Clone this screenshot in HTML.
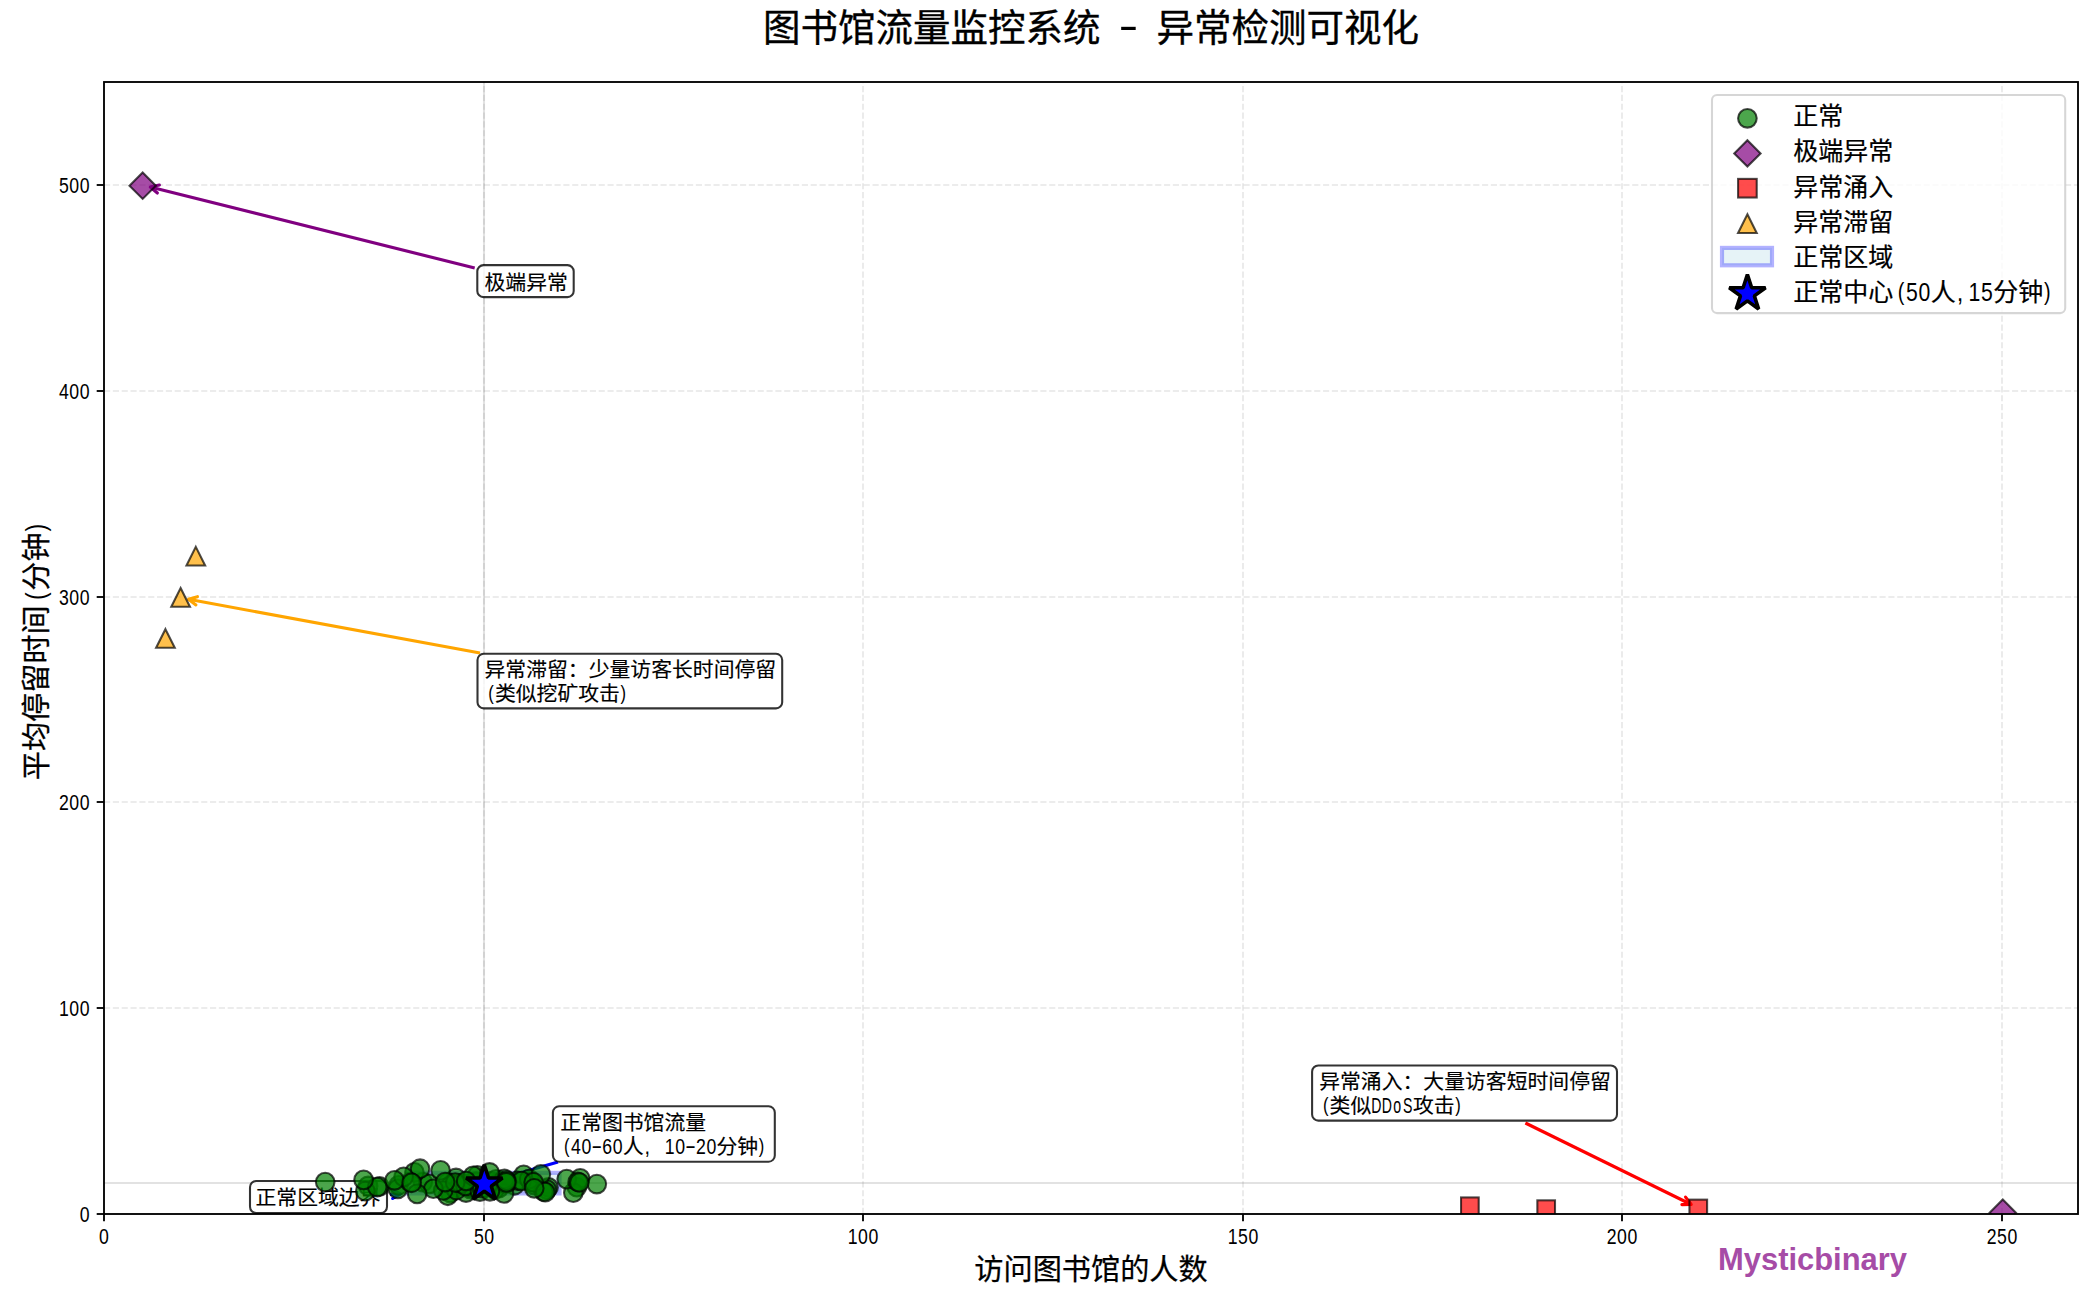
<!DOCTYPE html>
<html lang="zh-CN"><head><meta charset="utf-8"><title>图书馆流量监控系统 - 异常检测可视化</title>
<style>
html,body{margin:0;padding:0;background:#fff;}
body{width:2100px;height:1292px;overflow:hidden;}
svg{display:block;font-family:"Liberation Sans","Noto Sans CJK SC",sans-serif;}
text{white-space:pre;}
</style></head><body>
<svg width="2100" height="1292" viewBox="0 0 2100 1292">
<rect width="2100" height="1292" fill="#fff"/>
<defs><clipPath id="ax"><rect x="104.0" y="82.0" width="1974.0" height="1132.0"/></clipPath></defs>

<g clip-path="url(#ax)">
<g stroke="#b0b0b0" stroke-opacity="0.3" stroke-width="1.67" stroke-dasharray="6.1667 2.6667" fill="none">
<path d="M104 1214.0 V82.0"/>
<path d="M484 1214.0 V82.0"/>
<path d="M863 1214.0 V82.0"/>
<path d="M1243 1214.0 V82.0"/>
<path d="M1622 1214.0 V82.0"/>
<path d="M2002 1214.0 V82.0"/>
<path d="M104.0 1214 H2078.0"/>
<path d="M104.0 1008 H2078.0"/>
<path d="M104.0 802 H2078.0"/>
<path d="M104.0 597 H2078.0"/>
<path d="M104.0 391 H2078.0"/>
<path d="M104.0 185 H2078.0"/>
</g>
<path d="M104.0 1183 H2078.0" stroke="#808080" stroke-opacity="0.23" stroke-width="2.08"/>
<path d="M484 1214.0 V82.0" stroke="#808080" stroke-opacity="0.23" stroke-width="2.08"/>
<rect x="407.69" y="1172.84" width="151.85" height="20.58" fill="#add8e6" fill-opacity="0.3" stroke="#0000ff" stroke-opacity="0.3" stroke-width="4.17"/>
</g>
<path d="M474.70 268.00 L150.30 187.00" stroke="#800080" stroke-width="3.125" fill="none" stroke-linecap="butt"/>
<path d="M157.37 193.06 L150.30 187.00 L159.39 184.97" stroke="#800080" stroke-width="3.125" fill="none" stroke-linecap="round" stroke-linejoin="round"/>
<path d="M480.00 653.00 L188.50 599.30" stroke="#ffa500" stroke-width="3.125" fill="none" stroke-linecap="butt"/>
<path d="M195.94 604.91 L188.50 599.30 L197.45 596.71" stroke="#ffa500" stroke-width="3.125" fill="none" stroke-linecap="round" stroke-linejoin="round"/>
<path d="M1525.40 1123.00 L1691.20 1204.50" stroke="#ff0000" stroke-width="3.125" fill="none" stroke-linecap="butt"/>
<path d="M1685.56 1197.08 L1691.20 1204.50 L1681.88 1204.57" stroke="#ff0000" stroke-width="3.125" fill="none" stroke-linecap="round" stroke-linejoin="round"/>
<path d="M558.00 1162.00 L487.62 1182.13" stroke="#0000ff" stroke-width="3.125" fill="none" stroke-linecap="butt"/>
<path d="M496.77 1183.85 L487.62 1182.13 L494.48 1175.83" stroke="#0000ff" stroke-width="3.125" fill="none" stroke-linecap="round" stroke-linejoin="round"/>
<path d="M390.00 1194.40 L400.80 1193.90" stroke="#0000ff" stroke-width="3.125" fill="none" stroke-linecap="butt"/>
<path d="M392.29 1190.12 L400.80 1193.90 L392.67 1198.45" stroke="#0000ff" stroke-width="3.125" fill="none" stroke-linecap="round" stroke-linejoin="round"/>
<rect x="477.30" y="265.10" width="96.40" height="32.00" rx="6.2" ry="6.2" fill="#fff" fill-opacity="0.8" stroke="#000" stroke-opacity="0.8" stroke-width="2.08"/>
<text x="484.50" y="289.60" font-size="20.83" textLength="83.32" lengthAdjust="spacing" fill="#000" stroke="#000" stroke-width="0.15">极端异常</text>
<rect x="477.50" y="653.80" width="304.70" height="54.60" rx="6.2" ry="6.2" fill="#fff" fill-opacity="0.8" stroke="#000" stroke-opacity="0.8" stroke-width="2.08"/>
<text x="484.50" y="677.40" font-size="20.83" textLength="291.62" lengthAdjust="spacing" fill="#000" stroke="#000" stroke-width="0.15">异常滞留：少量访客长时间停留</text>
<text transform="translate(490.96 700.16) scale(0.85 1)" text-anchor="middle" font-size="19.43" fill="#000">(</text>
<text x="494.92" y="701.20" font-size="20.83" textLength="124.98" lengthAdjust="spacing" fill="#000" stroke="#000" stroke-width="0.15">类似挖矿攻击</text>
<text transform="translate(623.23 700.16) scale(0.85 1)" text-anchor="middle" font-size="19.43" fill="#000">)</text>
<rect x="1312.10" y="1065.50" width="304.90" height="55.10" rx="6.2" ry="6.2" fill="#fff" fill-opacity="0.8" stroke="#000" stroke-opacity="0.8" stroke-width="2.08"/>
<text x="1319.20" y="1089.40" font-size="20.83" textLength="291.62" lengthAdjust="spacing" fill="#000" stroke="#000" stroke-width="0.15">异常涌入：大量访客短时间停留</text>
<text transform="translate(1325.66 1112.16) scale(0.85 1)" text-anchor="middle" font-size="19.43" fill="#000">(</text>
<text x="1329.62" y="1113.20" font-size="20.83" textLength="41.66" lengthAdjust="spacing" fill="#000" stroke="#000" stroke-width="0.15">类似</text>
<text transform="scale(0.64 1)" x="2150.75 2167.03 2183.30 2199.57" y="1113.20" text-anchor="middle" font-size="22.08" fill="#000">DDoS</text>
<text x="1412.94" y="1113.20" font-size="20.83" textLength="41.66" lengthAdjust="spacing" fill="#000" stroke="#000" stroke-width="0.15">攻击</text>
<text transform="translate(1457.93 1112.16) scale(0.85 1)" text-anchor="middle" font-size="19.43" fill="#000">)</text>
<rect x="552.90" y="1106.30" width="221.90" height="55.40" rx="6.2" ry="6.2" fill="#fff" fill-opacity="0.8" stroke="#000" stroke-opacity="0.8" stroke-width="2.08"/>
<text x="560.30" y="1130.30" font-size="20.83" textLength="145.81" lengthAdjust="spacing" fill="#000" stroke="#000" stroke-width="0.15">正常图书馆流量</text>
<text transform="translate(566.76 1153.06) scale(0.85 1)" text-anchor="middle" font-size="19.43" fill="#000">(</text>
<text transform="scale(0.8 1)" x="719.90 732.92" y="1154.10" text-anchor="middle" font-size="22.08" fill="#000">40</text>
<text transform="translate(596.75 1152.64) scale(1.5 1)" text-anchor="middle" font-size="22.08" fill="#000">-</text>
<text transform="scale(0.8 1)" x="758.96 771.98" y="1154.10" text-anchor="middle" font-size="22.08" fill="#000">60</text>
<text x="622.79" y="1154.10" font-size="20.83" textLength="20.83" lengthAdjust="spacing" fill="#000" stroke="#000" stroke-width="0.15">人</text>
<text transform="translate(647.16 1154.10) scale(0.9 1)" text-anchor="middle" font-size="22.08" fill="#000">,</text>
<text transform="scale(0.8 1)" x="837.07 850.09" y="1154.10" text-anchor="middle" font-size="22.08" fill="#000">10</text>
<text transform="translate(690.49 1152.64) scale(1.5 1)" text-anchor="middle" font-size="22.08" fill="#000">-</text>
<text transform="scale(0.8 1)" x="876.13 889.15" y="1154.10" text-anchor="middle" font-size="22.08" fill="#000">20</text>
<text x="716.52" y="1154.10" font-size="20.83" textLength="41.66" lengthAdjust="spacing" fill="#000" stroke="#000" stroke-width="0.15">分钟</text>
<text transform="translate(761.52 1153.06) scale(0.85 1)" text-anchor="middle" font-size="19.43" fill="#000">)</text>
<rect x="250.00" y="1181.00" width="137.00" height="32.00" rx="6.2" ry="6.2" fill="#fff" fill-opacity="0.8" stroke="#000" stroke-opacity="0.8" stroke-width="2.08"/>
<text x="255.50" y="1205.30" font-size="20.83" textLength="124.98" lengthAdjust="spacing" fill="#000" stroke="#000" stroke-width="0.15">正常区域边界</text>
<g clip-path="url(#ax)">
<g fill="#008000" fill-opacity="0.7" stroke="#000" stroke-opacity="0.7" stroke-width="2.08">
<circle cx="514.49" cy="1185.28" r="9.32"/>
<circle cx="475.92" cy="1181.72" r="9.32"/>
<circle cx="523.65" cy="1174.80" r="9.32"/>
<circle cx="576.82" cy="1187.13" r="9.32"/>
<circle cx="470.09" cy="1188.92" r="9.32"/>
<circle cx="470.09" cy="1187.03" r="9.32"/>
<circle cx="580.23" cy="1178.28" r="9.32"/>
<circle cx="530.93" cy="1181.90" r="9.32"/>
<circle cx="455.80" cy="1187.20" r="9.32"/>
<circle cx="517.27" cy="1180.76" r="9.32"/>
<circle cx="456.17" cy="1183.33" r="9.32"/>
<circle cx="456.03" cy="1177.95" r="9.32"/>
<circle cx="499.01" cy="1188.26" r="9.32"/>
<circle cx="368.11" cy="1185.95" r="9.32"/>
<circle cx="379.55" cy="1186.35" r="9.32"/>
<circle cx="450.16" cy="1192.96" r="9.32"/>
<circle cx="422.80" cy="1182.10" r="9.32"/>
<circle cx="503.40" cy="1182.32" r="9.32"/>
<circle cx="429.16" cy="1183.90" r="9.32"/>
<circle cx="398.53" cy="1185.38" r="9.32"/>
<circle cx="573.34" cy="1192.67" r="9.32"/>
<circle cx="470.60" cy="1186.52" r="9.32"/>
<circle cx="488.42" cy="1186.04" r="9.32"/>
<circle cx="397.78" cy="1188.88" r="9.32"/>
<circle cx="451.25" cy="1184.92" r="9.32"/>
<circle cx="491.05" cy="1181.43" r="9.32"/>
<circle cx="414.41" cy="1172.28" r="9.32"/>
<circle cx="507.13" cy="1182.85" r="9.32"/>
<circle cx="447.83" cy="1182.34" r="9.32"/>
<circle cx="466.60" cy="1184.39" r="9.32"/>
<circle cx="447.77" cy="1195.77" r="9.32"/>
<circle cx="596.82" cy="1184.09" r="9.32"/>
<circle cx="483.50" cy="1183.56" r="9.32"/>
<circle cx="420.07" cy="1168.72" r="9.32"/>
<circle cx="534.28" cy="1185.12" r="9.32"/>
<circle cx="410.16" cy="1182.07" r="9.32"/>
<circle cx="497.00" cy="1184.14" r="9.32"/>
<circle cx="365.29" cy="1191.14" r="9.32"/>
<circle cx="403.64" cy="1176.87" r="9.32"/>
<circle cx="496.27" cy="1179.28" r="9.32"/>
<circle cx="529.17" cy="1179.04" r="9.32"/>
<circle cx="494.72" cy="1189.54" r="9.32"/>
<circle cx="477.29" cy="1175.27" r="9.32"/>
<circle cx="466.03" cy="1192.58" r="9.32"/>
<circle cx="394.51" cy="1180.30" r="9.32"/>
<circle cx="440.59" cy="1170.40" r="9.32"/>
<circle cx="456.34" cy="1190.04" r="9.32"/>
<circle cx="548.52" cy="1187.42" r="9.32"/>
<circle cx="505.19" cy="1183.31" r="9.32"/>
<circle cx="377.23" cy="1187.04" r="9.32"/>
<circle cx="504.00" cy="1193.50" r="9.32"/>
<circle cx="460.93" cy="1183.50" r="9.32"/>
<circle cx="443.20" cy="1190.49" r="9.32"/>
<circle cx="521.47" cy="1181.00" r="9.32"/>
<circle cx="546.94" cy="1189.60" r="9.32"/>
<circle cx="540.88" cy="1174.36" r="9.32"/>
<circle cx="433.34" cy="1188.76" r="9.32"/>
<circle cx="465.53" cy="1185.92" r="9.32"/>
<circle cx="504.44" cy="1178.90" r="9.32"/>
<circle cx="543.57" cy="1191.53" r="9.32"/>
<circle cx="455.21" cy="1182.52" r="9.32"/>
<circle cx="473.04" cy="1175.86" r="9.32"/>
<circle cx="417.12" cy="1193.85" r="9.32"/>
<circle cx="411.66" cy="1182.79" r="9.32"/>
<circle cx="533.67" cy="1182.32" r="9.32"/>
<circle cx="566.69" cy="1179.10" r="9.32"/>
<circle cx="479.94" cy="1191.56" r="9.32"/>
<circle cx="545.27" cy="1192.08" r="9.32"/>
<circle cx="506.28" cy="1180.70" r="9.32"/>
<circle cx="445.13" cy="1182.09" r="9.32"/>
<circle cx="506.27" cy="1182.38" r="9.32"/>
<circle cx="577.73" cy="1181.79" r="9.32"/>
<circle cx="482.14" cy="1188.13" r="9.32"/>
<circle cx="579.35" cy="1182.49" r="9.32"/>
<circle cx="325.20" cy="1182.12" r="9.32"/>
<circle cx="534.24" cy="1188.34" r="9.32"/>
<circle cx="489.60" cy="1172.41" r="9.32"/>
<circle cx="466.15" cy="1181.00" r="9.32"/>
<circle cx="489.89" cy="1191.28" r="9.32"/>
<circle cx="363.59" cy="1179.87" r="9.32"/>
</g>
<g fill="#800080" fill-opacity="0.7" stroke="#000" stroke-opacity="0.7" stroke-width="2.08" stroke-linejoin="miter"><path d="M142.66 172.54 L155.83 185.71 L142.66 198.88 L129.49 185.71 Z"/><path d="M2002.78 1199.57 L2015.95 1212.74 L2002.78 1225.91 L1989.61 1212.74 Z"/></g>
<g fill="#ff0000" fill-opacity="0.7" stroke="#000" stroke-opacity="0.7" stroke-width="2.08" stroke-linejoin="miter"><rect x="1461.04" y="1197.44" width="17.67" height="17.67"/><rect x="1537.34" y="1200.34" width="17.67" height="17.67"/><rect x="1689.44" y="1199.64" width="17.67" height="17.67"/></g>
<g fill="#ffa500" fill-opacity="0.7" stroke="#000" stroke-opacity="0.7" stroke-width="2.08" stroke-linejoin="miter"><path d="M165.44 629.19 L174.76 647.83 L156.12 647.83 Z"/><path d="M180.62 588.03 L189.94 606.67 L171.30 606.67 Z"/><path d="M195.81 546.86 L205.13 565.50 L186.49 565.50 Z"/></g>
<g fill="#0000ff" stroke="#000" stroke-width="3.6" stroke-linejoin="bevel"><path d="M484.32 1164.83 L488.60 1178.03 L502.48 1178.03 L491.25 1186.18 L495.54 1199.38 L484.32 1191.22 L473.09 1199.38 L477.38 1186.18 L466.15 1178.03 L480.03 1178.03 Z"/></g>
</g>
<rect x="104.0" y="82.0" width="1974.0" height="1132.0" fill="none" stroke="#000" stroke-width="1.85"/>
<g stroke="#000" stroke-width="1.85">
<path d="M104 1214.0 v7.3"/>
<path d="M484 1214.0 v7.3"/>
<path d="M863 1214.0 v7.3"/>
<path d="M1243 1214.0 v7.3"/>
<path d="M1622 1214.0 v7.3"/>
<path d="M2002 1214.0 v7.3"/>
<path d="M104.0 1214 h-7.3"/>
<path d="M104.0 1008 h-7.3"/>
<path d="M104.0 802 h-7.3"/>
<path d="M104.0 597 h-7.3"/>
<path d="M104.0 391 h-7.3"/>
<path d="M104.0 185 h-7.3"/>
</g>
<text transform="scale(0.8 1)" x="130.00" y="1244.00" text-anchor="middle" font-size="22.08" fill="#000">0</text>
<text transform="scale(0.8 1)" x="598.49 611.51" y="1244.00" text-anchor="middle" font-size="22.08" fill="#000">50</text>
<text transform="scale(0.8 1)" x="1065.73 1078.75 1091.77" y="1244.00" text-anchor="middle" font-size="22.08" fill="#000">100</text>
<text transform="scale(0.8 1)" x="1540.73 1553.75 1566.77" y="1244.00" text-anchor="middle" font-size="22.08" fill="#000">150</text>
<text transform="scale(0.8 1)" x="2014.48 2027.50 2040.52" y="1244.00" text-anchor="middle" font-size="22.08" fill="#000">200</text>
<text transform="scale(0.8 1)" x="2489.48 2502.50 2515.52" y="1244.00" text-anchor="middle" font-size="22.08" fill="#000">250</text>
<text transform="scale(0.8 1)" x="105.87" y="1222.30" text-anchor="middle" font-size="22.08" fill="#000">0</text>
<text transform="scale(0.8 1)" x="79.83 92.85 105.87" y="1016.30" text-anchor="middle" font-size="22.08" fill="#000">100</text>
<text transform="scale(0.8 1)" x="79.83 92.85 105.87" y="810.30" text-anchor="middle" font-size="22.08" fill="#000">200</text>
<text transform="scale(0.8 1)" x="79.83 92.85 105.87" y="605.30" text-anchor="middle" font-size="22.08" fill="#000">300</text>
<text transform="scale(0.8 1)" x="79.83 92.85 105.87" y="399.30" text-anchor="middle" font-size="22.08" fill="#000">400</text>
<text transform="scale(0.8 1)" x="79.83 92.85 105.87" y="193.30" text-anchor="middle" font-size="22.08" fill="#000">500</text>
<text x="762.88" y="41.30" font-size="37.50" textLength="337.50" lengthAdjust="spacing" fill="#000" stroke="#000" stroke-width="0.35">图书馆流量监控系统</text>
<text transform="translate(1128.50 38.67) scale(1.5 1)" text-anchor="middle" font-size="39.75" fill="#000">-</text>
<text x="1156.62" y="41.30" font-size="37.50" textLength="262.50" lengthAdjust="spacing" fill="#000" stroke="#000" stroke-width="0.35">异常检测可视化</text>
<text x="974.32" y="1279.50" font-size="29.17" textLength="233.36" lengthAdjust="spacing" fill="#000" stroke="#000" stroke-width="0.25">访问图书馆的人数</text>
<g transform="translate(46.5 649.00) rotate(-90)">
<text x="-131.27" y="0.00" font-size="29.17" textLength="175.02" lengthAdjust="spacing" fill="#000" stroke="#000" stroke-width="0.25">平均停留时间</text>
<text transform="translate(52.80 -1.46) scale(0.85 1)" text-anchor="middle" font-size="27.21" fill="#000">(</text>
<text x="58.34" y="0.00" font-size="29.17" textLength="58.34" lengthAdjust="spacing" fill="#000" stroke="#000" stroke-width="0.25">分钟</text>
<text transform="translate(121.35 -1.46) scale(0.85 1)" text-anchor="middle" font-size="27.21" fill="#000">)</text>
</g>
<rect x="1712.0" y="95.0" width="353.20" height="218.10" rx="5" ry="5" fill="#fff" fill-opacity="0.8" stroke="#ccc" stroke-opacity="0.8" stroke-width="2.08"/>
<circle cx="1747.4" cy="118.3" r="9.32" fill="#008000" fill-opacity="0.7" stroke="#000" stroke-opacity="0.7" stroke-width="2.08"/>
<g fill="#800080" fill-opacity="0.7" stroke="#000" stroke-opacity="0.7" stroke-width="2.08" stroke-linejoin="miter"><path d="M1747.40 140.23 L1760.57 153.40 L1747.40 166.57 L1734.23 153.40 Z"/></g>
<g fill="#ff0000" fill-opacity="0.7" stroke="#000" stroke-opacity="0.7" stroke-width="2.08" stroke-linejoin="miter"><rect x="1738.08" y="178.88" width="18.64" height="18.64"/></g>
<g fill="#ffa500" fill-opacity="0.7" stroke="#000" stroke-opacity="0.7" stroke-width="2.08" stroke-linejoin="miter"><path d="M1747.40 214.28 L1756.72 232.92 L1738.08 232.92 Z"/></g>
<rect x="1722.00" y="247.90" width="50" height="17.4" fill="#add8e6" fill-opacity="0.3" stroke="#0000ff" stroke-opacity="0.3" stroke-width="4.17"/>
<g fill="#0000ff" stroke="#000" stroke-width="3.6" stroke-linejoin="bevel"><path d="M1747.40 274.50 L1751.69 287.70 L1765.57 287.70 L1754.34 295.85 L1758.63 309.05 L1747.40 300.90 L1736.17 309.05 L1740.46 295.85 L1729.23 287.70 L1743.11 287.70 Z"/></g>
<text x="1793.20" y="124.90" font-size="25.00" textLength="50.00" lengthAdjust="spacing" fill="#000" stroke="#000" stroke-width="0.2">正常</text>
<text x="1793.20" y="160.20" font-size="25.00" textLength="100.00" lengthAdjust="spacing" fill="#000" stroke="#000" stroke-width="0.2">极端异常</text>
<text x="1793.20" y="195.50" font-size="25.00" textLength="100.00" lengthAdjust="spacing" fill="#000" stroke="#000" stroke-width="0.2">异常涌入</text>
<text x="1793.20" y="230.80" font-size="25.00" textLength="100.00" lengthAdjust="spacing" fill="#000" stroke="#000" stroke-width="0.2">异常滞留</text>
<text x="1793.20" y="266.10" font-size="25.00" textLength="100.00" lengthAdjust="spacing" fill="#000" stroke="#000" stroke-width="0.2">正常区域</text>
<text x="1793.20" y="301.40" font-size="25.00" textLength="100.00" lengthAdjust="spacing" fill="#000" stroke="#000" stroke-width="0.2">正常中心</text>
<text transform="translate(1900.95 300.15) scale(0.85 1)" text-anchor="middle" font-size="23.32" fill="#000">(</text>
<text transform="scale(0.8 1)" x="2389.94 2405.56" y="301.40" text-anchor="middle" font-size="26.50" fill="#000">50</text>
<text x="1930.70" y="301.40" font-size="25.00" textLength="25.00" lengthAdjust="spacing" fill="#000" stroke="#000" stroke-width="0.2">人</text>
<text transform="translate(1959.95 301.40) scale(0.9 1)" text-anchor="middle" font-size="26.50" fill="#000">,</text>
<text transform="scale(0.8 1)" x="2468.06 2483.69" y="301.40" text-anchor="middle" font-size="26.50" fill="#000">15</text>
<text x="1993.20" y="301.40" font-size="25.00" textLength="50.00" lengthAdjust="spacing" fill="#000" stroke="#000" stroke-width="0.2">分钟</text>
<text transform="translate(2047.20 300.15) scale(0.85 1)" text-anchor="middle" font-size="23.32" fill="#000">)</text>
<text x="1718" y="1270" font-size="31" font-weight="bold" fill="#a64ca6" textLength="189" lengthAdjust="spacingAndGlyphs">Mysticbinary</text>
</svg></body></html>
